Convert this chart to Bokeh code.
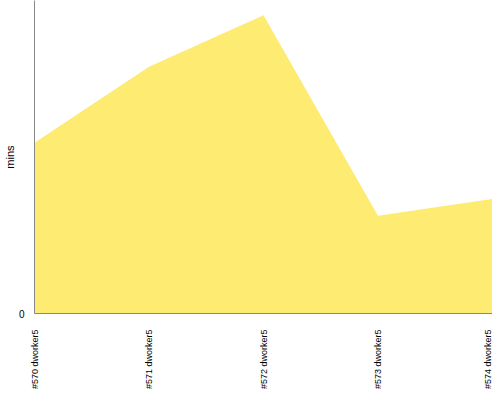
from bokeh.plotting import figure
from bokeh.models import Range1d, FixedTicker, ColumnDataSource
from bokeh.embed import file_html
from bokeh.resources import INLINE
import math

categories = ["#570 dworker5", "#571 dworker5", "#572 dworker5", "#573 dworker5", "#574 dworker5"]
minutes = [173, 250, 302, 99, 116]
y_max = 317

xs = list(range(len(categories)))
src = ColumnDataSource(dict(x=xs, y=minutes, y0=[0] * len(xs)))

p = figure(width=492, height=392, output_backend="svg", toolbar_location=None,
           x_range=Range1d(0, len(categories) - 1), y_range=Range1d(0, y_max),
           min_border_left=33, min_border_top=0, min_border_right=0, min_border_bottom=70)
p.outline_line_color = None
p.xgrid.visible = False
p.ygrid.visible = False

p.varea(x="x", y1="y0", y2="y", source=src, fill_color="#FDEB72", fill_alpha=1.0)

p.xaxis.ticker = FixedTicker(ticks=xs)
p.xaxis.major_label_overrides = {i: c for i, c in enumerate(categories)}
p.xaxis.major_label_orientation = math.pi / 2
p.xaxis.major_tick_line_color = None
p.xaxis.minor_tick_line_color = None
p.xaxis.axis_line_color = "#888888"
p.xaxis.major_label_text_font = "Liberation Sans"
p.xaxis.major_label_text_font_size = "9px"
p.xaxis.major_label_text_color = "#000000"
p.xaxis.major_label_standoff = 10

p.yaxis.ticker = FixedTicker(ticks=[0])
p.yaxis.major_tick_line_color = None
p.yaxis.minor_tick_line_color = None
p.yaxis.axis_line_color = "#888888"
p.yaxis.major_label_text_font = "Liberation Sans"
p.yaxis.major_label_text_font_size = "10px"
p.yaxis.major_label_text_color = "#000000"
p.yaxis.major_label_standoff = 4
p.yaxis.axis_label = "mins"
p.yaxis.axis_label_text_font = "Liberation Sans"
p.yaxis.axis_label_text_font_style = "normal"
p.yaxis.axis_label_text_font_size = "11px"
p.yaxis.axis_label_text_color = "#000000"
p.yaxis.axis_label_standoff = 0

open("out.html", "w").write(file_html(p, INLINE))
